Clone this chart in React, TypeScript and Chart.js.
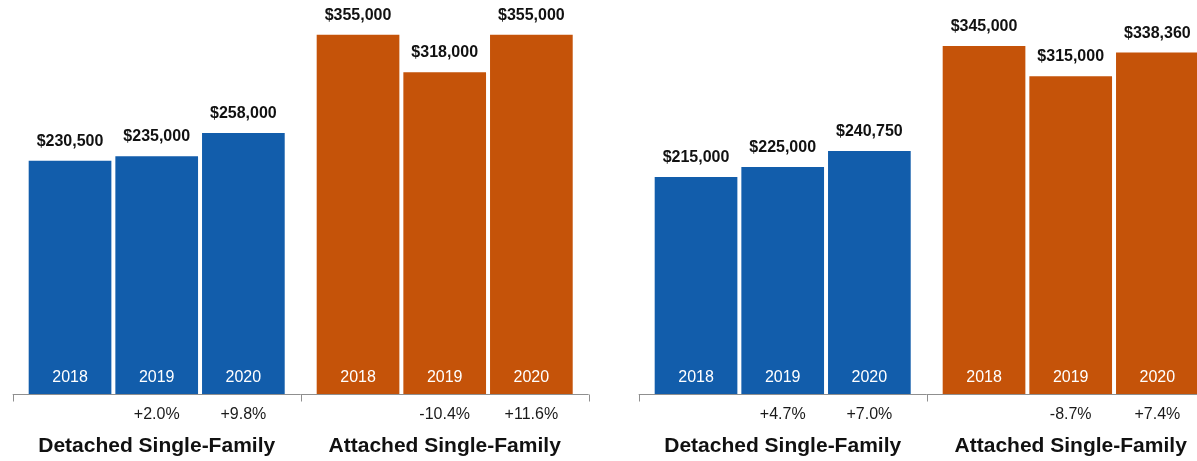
import React, { useEffect, useRef } from "react";
import { Chart, registerables } from "chart.js";

Chart.register(...registerables);

// ---- Data ----
const groups = ["Detached Single-Family", "Attached Single-Family"];
const years = ["2018", "2019", "2020"];

const leftDetached = [230500, 235000, 258000];
const leftAttached = [355000, 318000, 355000];
const leftDetachedChange = ["", "+2.0%", "+9.8%"];
const leftAttachedChange = ["", "-10.4%", "+11.6%"];

const rightDetached = [215000, 225000, 240750];
const rightAttached = [345000, 315000, 338360];
const rightDetachedChange = ["", "+4.7%", "+7.0%"];
const rightAttachedChange = ["", "-8.7%", "+7.4%"];

const leftYMax = 389300;
const rightYMax = 390500;

const groupColors = ["#125DAB", "#C55309"];
const FONT = '"Liberation Sans", Arial, Helvetica, sans-serif';

function fmtMoney(v: number): string {
  return "$" + String(v).replace(/\B(?=(\d{3})+(?!\d))/g, ",");
}

type PanelProps = {
  detached: number[];
  attached: number[];
  detachedChange: string[];
  attachedChange: string[];
  yMax: number;
  left: number;
};

function Panel({ detached, attached, detachedChange, attachedChange, yMax, left }: PanelProps) {
  const ref = useRef<HTMLCanvasElement | null>(null);

  useEffect(() => {
    if (!ref.current) return;
    const changes = [detachedChange, attachedChange];

    const labelsPlugin = {
      id: "customLabels",
      afterDatasetsDraw(chart: any) {
        const ctx = chart.ctx as CanvasRenderingContext2D;
        const area = chart.chartArea;
        const xScale = chart.scales.x;
        ctx.save();

        // axis line and tick marks
        ctx.strokeStyle = "#8f8f8f";
        ctx.lineWidth = 1;
        const yLine = Math.round(area.bottom) + 0.5;
        ctx.beginPath();
        ctx.moveTo(area.left, yLine);
        ctx.lineTo(area.right, yLine);
        const mid = (area.left + area.right) / 2;
        [area.left, mid, area.right].forEach((tx: number) => {
          const px = Math.round(tx) + 0.5;
          ctx.moveTo(px, yLine);
          ctx.lineTo(px, yLine + 7);
        });
        ctx.stroke();

        ctx.textAlign = "center";
        ctx.textBaseline = "alphabetic";

        chart.data.datasets.forEach((ds: any, i: number) => {
          const meta = chart.getDatasetMeta(i);
          meta.data.forEach((bar: any, j: number) => {
            const { x, y } = bar.getProps(["x", "y"], true);
            const value = ds.data[j] as number;

            ctx.fillStyle = "#111111";
            ctx.font = `bold 16px ${FONT}`;
            ctx.fillText(fmtMoney(value), x, y - 15);

            ctx.fillStyle = "#ffffff";
            ctx.font = `16px ${FONT}`;
            ctx.fillText(years[i], x, area.bottom - 12);

            const change = changes[j][i];
            if (change) {
              ctx.fillStyle = "#1a1a1a";
              ctx.font = `16px ${FONT}`;
              ctx.fillText(change, x, area.bottom + 25);
            }
          });
        });

        groups.forEach((g, j) => {
          ctx.fillStyle = "#111111";
          ctx.font = `bold 21px ${FONT}`;
          ctx.fillText(g, xScale.getPixelForValue(j), area.bottom + 58);
        });

        ctx.restore();
      },
    };

    const chart = new Chart(ref.current, {
      type: "bar",
      data: {
        labels: groups,
        datasets: years.map((yr, i) => ({
          label: yr,
          data: [detached[i], attached[i]],
          backgroundColor: groupColors,
          borderWidth: 0,
          categoryPercentage: 0.9028,
          barPercentage: 0.954,
        })),
      },
      options: {
        responsive: false,
        animation: false,
        devicePixelRatio: 1,
        layout: { padding: { left: 12.7, right: 37.3, top: 0, bottom: 67 } },
        plugins: {
          legend: { display: false },
          tooltip: { enabled: false },
        },
        scales: {
          x: { display: false, offset: true, grid: { offset: true } },
          y: { display: false, min: 0, max: yMax },
        },
      },
      plugins: [labelsPlugin],
    });

    return () => chart.destroy();
  }, []);

  return (
    <canvas
      ref={ref}
      width={626}
      height={461}
      style={{ position: "absolute", left, top: 0, width: 626, height: 461 }}
    />
  );
}

export default function App() {
  return (
    <div
      style={{
        position: "fixed",
        left: 0,
        top: 0,
        width: 1197,
        height: 461,
        overflow: "hidden",
        background: "#ffffff",
      }}
    >
      <Panel
        detached={leftDetached}
        attached={leftAttached}
        detachedChange={leftDetachedChange}
        attachedChange={leftAttachedChange}
        yMax={leftYMax}
        left={0}
      />
      <Panel
        detached={rightDetached}
        attached={rightAttached}
        detachedChange={rightDetachedChange}
        attachedChange={rightAttachedChange}
        yMax={rightYMax}
        left={626}
      />
    </div>
  );
}
